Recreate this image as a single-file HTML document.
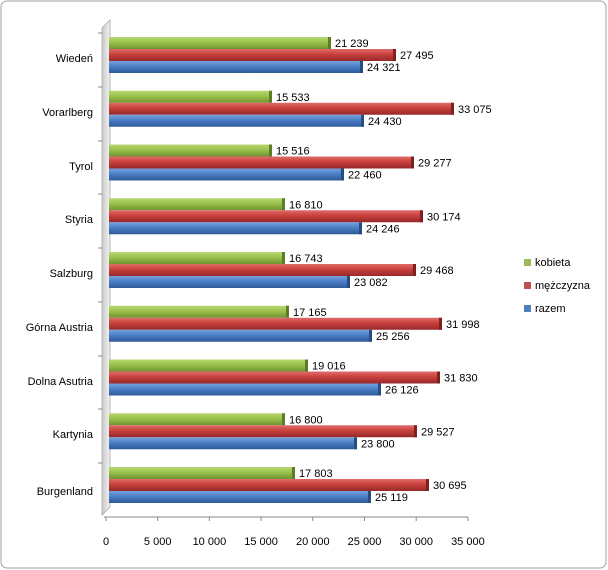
<!DOCTYPE html>
<html><head><meta charset="utf-8"><style>
body{margin:0;background:#fff}
svg{display:block;font-family:"Liberation Sans",sans-serif}
</style></head><body>
<svg width="608" height="570" viewBox="0 0 608 570">
<defs>
<linearGradient id="gg" x1="0" y1="0" x2="0" y2="1"><stop offset="0" stop-color="#b8d870"/><stop offset="0.45" stop-color="#9bc14c"/><stop offset="1" stop-color="#6f9330"/></linearGradient>
<linearGradient id="gr" x1="0" y1="0" x2="0" y2="1"><stop offset="0" stop-color="#e06c6a"/><stop offset="0.45" stop-color="#c9403c"/><stop offset="1" stop-color="#96282a"/></linearGradient>
<linearGradient id="gb" x1="0" y1="0" x2="0" y2="1"><stop offset="0" stop-color="#77a3dc"/><stop offset="0.45" stop-color="#4a7ec6"/><stop offset="1" stop-color="#2f5a98"/></linearGradient>
<linearGradient id="gw" x1="0" y1="0" x2="1" y2="0"><stop offset="0" stop-color="#c8c8c8"/><stop offset="1" stop-color="#f4f4f4"/></linearGradient>
</defs>
<rect x="1" y="1" width="605" height="567" rx="6" fill="#fff" stroke="#a0a0a0"/>
<polygon points="102,28 110,20 110,507 102,515" fill="url(#gw)" stroke="#a8a8a8" stroke-width="0.8"/>
<line x1="104" y1="517" x2="468" y2="517" stroke="#888"/>
<g stroke="#888">
<line x1="106" y1="517" x2="106" y2="521"/><line x1="157.7" y1="517" x2="157.7" y2="521"/><line x1="209.4" y1="517" x2="209.4" y2="521"/><line x1="261.1" y1="517" x2="261.1" y2="521"/><line x1="312.8" y1="517" x2="312.8" y2="521"/><line x1="364.5" y1="517" x2="364.5" y2="521"/><line x1="416.2" y1="517" x2="416.2" y2="521"/><line x1="467.9" y1="517" x2="467.9" y2="521"/>
<line x1="98" y1="33" x2="102" y2="33"/><line x1="98" y1="87" x2="102" y2="87"/><line x1="98" y1="141" x2="102" y2="141"/><line x1="98" y1="194" x2="102" y2="194"/><line x1="98" y1="248" x2="102" y2="248"/><line x1="98" y1="302" x2="102" y2="302"/><line x1="98" y1="356" x2="102" y2="356"/><line x1="98" y1="409" x2="102" y2="409"/><line x1="98" y1="463" x2="102" y2="463"/>
</g>
<g font-size="11" fill="#000" text-anchor="middle">
<text x="106" y="545">0</text><text x="157.7" y="545">5 000</text><text x="209.4" y="545">10 000</text><text x="261.1" y="545">15 000</text><text x="312.8" y="545">20 000</text><text x="364.5" y="545">25 000</text><text x="416.2" y="545">30 000</text><text x="467.9" y="545">35 000</text>
</g>
<g font-size="11" fill="#000" text-anchor="end">
<text x="93" y="62">Wiedeń</text><text x="93" y="116">Vorarlberg</text><text x="93" y="170">Tyrol</text><text x="93" y="223">Styria</text><text x="93" y="277">Salzburg</text><text x="93" y="331">Górna Austria</text><text x="93" y="385">Dolna Asutria</text><text x="93" y="438">Kartynia</text><text x="93" y="495">Burgenland</text>
</g>
<g font-size="11" fill="#000">
<g transform="translate(0,37)"><rect x="109" y="0" width="222" height="12" fill="url(#gg)"/><rect x="328" y="0" width="3" height="12" fill="#5d7d26"/><text x="335" y="10">21 239</text>
<rect x="109" y="12" width="287" height="12" fill="url(#gr)"/><rect x="393" y="12" width="3" height="12" fill="#7e2020"/><text x="400" y="22">27 495</text>
<rect x="109" y="24" width="254" height="12" fill="url(#gb)"/><rect x="360" y="24" width="3" height="12" fill="#264c82"/><text x="367" y="34">24 321</text></g>
<g transform="translate(0,90.75)"><rect x="109" y="0" width="163" height="12" fill="url(#gg)"/><rect x="269" y="0" width="3" height="12" fill="#5d7d26"/><text x="276" y="10">15 533</text>
<rect x="109" y="12" width="345" height="12" fill="url(#gr)"/><rect x="451" y="12" width="3" height="12" fill="#7e2020"/><text x="458" y="22">33 075</text>
<rect x="109" y="24" width="255" height="12" fill="url(#gb)"/><rect x="361" y="24" width="3" height="12" fill="#264c82"/><text x="368" y="34">24 430</text></g>
<g transform="translate(0,144.5)"><rect x="109" y="0" width="163" height="12" fill="url(#gg)"/><rect x="269" y="0" width="3" height="12" fill="#5d7d26"/><text x="276" y="10">15 516</text>
<rect x="109" y="12" width="305" height="12" fill="url(#gr)"/><rect x="411" y="12" width="3" height="12" fill="#7e2020"/><text x="418" y="22">29 277</text>
<rect x="109" y="24" width="235" height="12" fill="url(#gb)"/><rect x="341" y="24" width="3" height="12" fill="#264c82"/><text x="348" y="34">22 460</text></g>
<g transform="translate(0,198.25)"><rect x="109" y="0" width="176" height="12" fill="url(#gg)"/><rect x="282" y="0" width="3" height="12" fill="#5d7d26"/><text x="289" y="10">16 810</text>
<rect x="109" y="12" width="314" height="12" fill="url(#gr)"/><rect x="420" y="12" width="3" height="12" fill="#7e2020"/><text x="427" y="22">30 174</text>
<rect x="109" y="24" width="253" height="12" fill="url(#gb)"/><rect x="359" y="24" width="3" height="12" fill="#264c82"/><text x="366" y="34">24 246</text></g>
<g transform="translate(0,252)"><rect x="109" y="0" width="176" height="12" fill="url(#gg)"/><rect x="282" y="0" width="3" height="12" fill="#5d7d26"/><text x="289" y="10">16 743</text>
<rect x="109" y="12" width="307" height="12" fill="url(#gr)"/><rect x="413" y="12" width="3" height="12" fill="#7e2020"/><text x="420" y="22">29 468</text>
<rect x="109" y="24" width="241" height="12" fill="url(#gb)"/><rect x="347" y="24" width="3" height="12" fill="#264c82"/><text x="354" y="34">23 082</text></g>
<g transform="translate(0,305.75)"><rect x="109" y="0" width="180" height="12" fill="url(#gg)"/><rect x="286" y="0" width="3" height="12" fill="#5d7d26"/><text x="293" y="10">17 165</text>
<rect x="109" y="12" width="333" height="12" fill="url(#gr)"/><rect x="439" y="12" width="3" height="12" fill="#7e2020"/><text x="446" y="22">31 998</text>
<rect x="109" y="24" width="263" height="12" fill="url(#gb)"/><rect x="369" y="24" width="3" height="12" fill="#264c82"/><text x="376" y="34">25 256</text></g>
<g transform="translate(0,359.5)"><rect x="109" y="0" width="199" height="12" fill="url(#gg)"/><rect x="305" y="0" width="3" height="12" fill="#5d7d26"/><text x="312" y="10">19 016</text>
<rect x="109" y="12" width="331" height="12" fill="url(#gr)"/><rect x="437" y="12" width="3" height="12" fill="#7e2020"/><text x="444" y="22">31 830</text>
<rect x="109" y="24" width="272" height="12" fill="url(#gb)"/><rect x="378" y="24" width="3" height="12" fill="#264c82"/><text x="385" y="34">26 126</text></g>
<g transform="translate(0,413.25)"><rect x="109" y="0" width="176" height="12" fill="url(#gg)"/><rect x="282" y="0" width="3" height="12" fill="#5d7d26"/><text x="289" y="10">16 800</text>
<rect x="109" y="12" width="308" height="12" fill="url(#gr)"/><rect x="414" y="12" width="3" height="12" fill="#7e2020"/><text x="421" y="22">29 527</text>
<rect x="109" y="24" width="248" height="12" fill="url(#gb)"/><rect x="354" y="24" width="3" height="12" fill="#264c82"/><text x="361" y="34">23 800</text></g>
<g transform="translate(0,467)"><rect x="109" y="0" width="186" height="12" fill="url(#gg)"/><rect x="292" y="0" width="3" height="12" fill="#5d7d26"/><text x="299" y="10">17 803</text>
<rect x="109" y="12" width="320" height="12" fill="url(#gr)"/><rect x="426" y="12" width="3" height="12" fill="#7e2020"/><text x="433" y="22">30 695</text>
<rect x="109" y="24" width="262" height="12" fill="url(#gb)"/><rect x="368" y="24" width="3" height="12" fill="#264c82"/><text x="375" y="34">25 119</text></g>
</g>
<g font-size="11" fill="#000">
<rect x="524" y="259" width="7" height="7" fill="#9bbb59"/><text x="535" y="266">kobieta</text>
<rect x="524" y="282" width="7" height="7" fill="#c0504d"/><text x="535" y="289">mężczyzna</text>
<rect x="524" y="305" width="7" height="7" fill="#4f81bd"/><text x="535" y="312">razem</text>
</g>
</svg>
</body></html>
